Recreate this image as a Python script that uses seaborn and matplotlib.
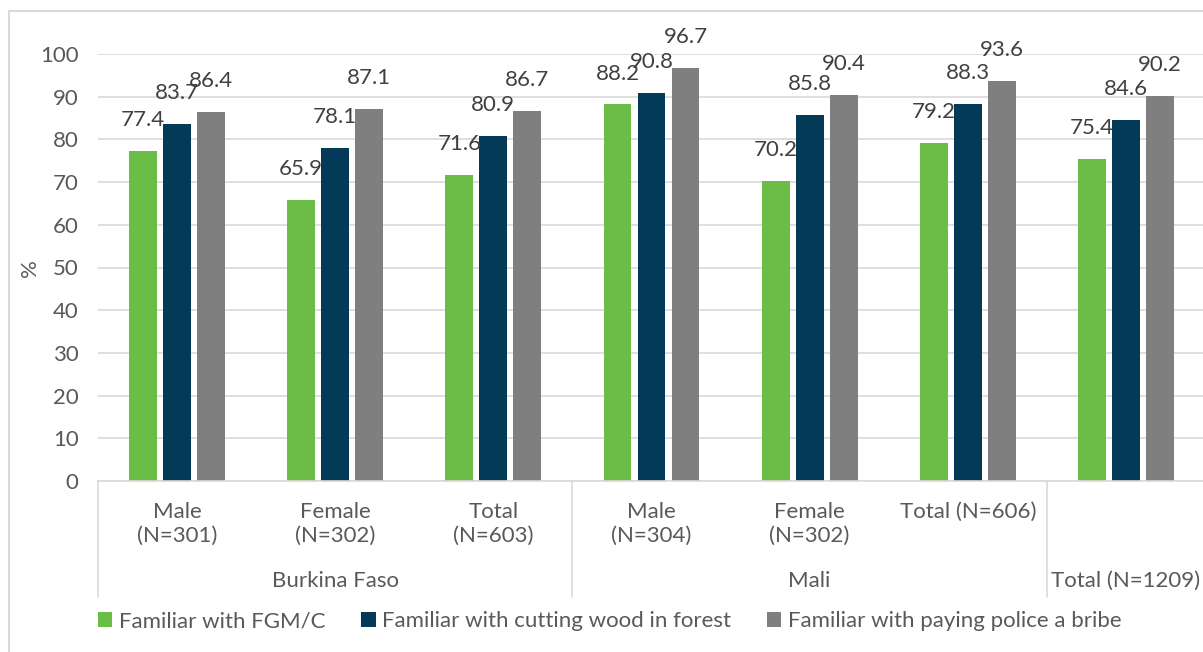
import matplotlib
matplotlib.use("Agg")
import matplotlib.pyplot as plt
from matplotlib.patches import Rectangle, Patch
from matplotlib.lines import Line2D
import seaborn as sns
import pandas as pd

# ---- data -------------------------------------------------------------
groups = ["BF Male", "BF Female", "BF Total", "ML Male", "ML Female", "ML Total", "All Total"]
group_labels = ["Male\n(N=301)", "Female\n(N=302)", "Total\n(N=603)",
                "Male\n(N=304)", "Female\n(N=302)", "Total (N=606)", ""]
countries = ["Burkina Faso", "Mali", "Total (N=1209)"]
country_centers = [1, 4, 6]
country_bounds = [-0.5, 2.5, 5.5]

series = ["Familiar with FGM/C",
          "Familiar with cutting wood in forest",
          "Familiar with paying police a bribe"]
fgm = [77.4, 65.9, 71.6, 88.2, 70.2, 79.2, 75.4]
wood = [83.7, 78.1, 80.9, 90.8, 85.8, 88.3, 84.6]
bribe = [86.4, 87.1, 86.7, 96.7, 90.4, 93.6, 90.2]
yticks = [0, 10, 20, 30, 40, 50, 60, 70, 80, 90, 100]

colors = ["#6CBD48", "#033A57", "#7F7F80"]

df = pd.DataFrame({
    "group": groups * 3,
    "series": [series[0]] * 7 + [series[1]] * 7 + [series[2]] * 7,
    "value": fgm + wood + bribe,
})

# ---- figure -----------------------------------------------------------
sns.set_theme(style="white")
plt.rcParams["font.family"] = ["Lato", "DejaVu Sans"]

W, H, DPI = 1203, 652, 100
fig = plt.figure(figsize=(W / DPI, H / DPI), dpi=DPI)

# chart area border
fig.patches.append(Rectangle((9 / W, -0.1), 1.2, 1 - 11 / H + 0.1,
                             transform=fig.transFigure, fill=False,
                             edgecolor="#D9D9D9", linewidth=1.5))

left, right, top, bottom = 98, 1205, 54, 481
ax = fig.add_axes([left / W, 1 - bottom / H, (right - left) / W, (bottom - top) / H])

sns.barplot(data=df, x="group", y="value", hue="series", order=groups,
            hue_order=series, palette=colors, width=0.645, gap=0.18,
            saturation=1, ax=ax, legend=False, edgecolor="none")

ax.set_ylim(0, 100)
ax.set_xlim(-0.5, 6.5)
ax.set_yticks(yticks)
ax.yaxis.grid(True, color="#D9D9D9", linewidth=1.2)
ax.set_axisbelow(True)
for s in ["top", "right", "left"]:
    ax.spines[s].set_visible(False)
ax.spines["bottom"].set_color("#D9D9D9")
ax.spines["bottom"].set_linewidth(1.2)
ax.tick_params(axis="y", length=0, pad=14, labelsize=16, labelcolor="#595959")
ax.set_xticks([])
ax.set_xlabel("")
ax.set_ylabel("")

# y axis title
fig.text(30 / W, 1 - 268 / H, "%", rotation=90, ha="center", va="center",
         fontsize=16, color="#595959")

# value labels above bars
for cont in ax.containers:
    ax.bar_label(cont, fmt="%.1f", padding=15, fontsize=16, color="#404040")

# two-level category axis
px = 72 / DPI
for i, lab in enumerate(group_labels):
    if not lab:
        continue
    ax.annotate(lab, xy=(i, 0), xycoords=("data", "axes fraction"),
                xytext=(0, -(511 - bottom - 9) * px), textcoords="offset points",
                ha="center", va="top", fontsize=16, color="#595959",
                linespacing=1.25, annotation_clip=False)
for c, lab in zip(country_centers, countries):
    ax.annotate(lab, xy=(c, 0), xycoords=("data", "axes fraction"),
                xytext=(0, -(581 - bottom) * px), textcoords="offset points",
                ha="center", va="center", fontsize=16, color="#595959",
                annotation_clip=False)
sep_depth = (597 - bottom) / (bottom - top)
for xb in country_bounds:
    ax.add_line(Line2D([xb, xb], [0, -sep_depth], color="#D9D9D9", linewidth=1.2,
                       transform=ax.get_xaxis_transform(), clip_on=False))

# legend
handles = [Patch(facecolor=c, edgecolor="none") for c in colors]
fig.legend(handles, series, loc="center left", bbox_to_anchor=(98 / W, 1 - 621 / H),
           ncol=3, frameon=False, fontsize=16, labelcolor="#595959",
           handlelength=0.65, handleheight=0.65, handletextpad=0.3,
           columnspacing=1.6, borderaxespad=0, borderpad=0)

fig.savefig("out.png", dpi=DPI)
